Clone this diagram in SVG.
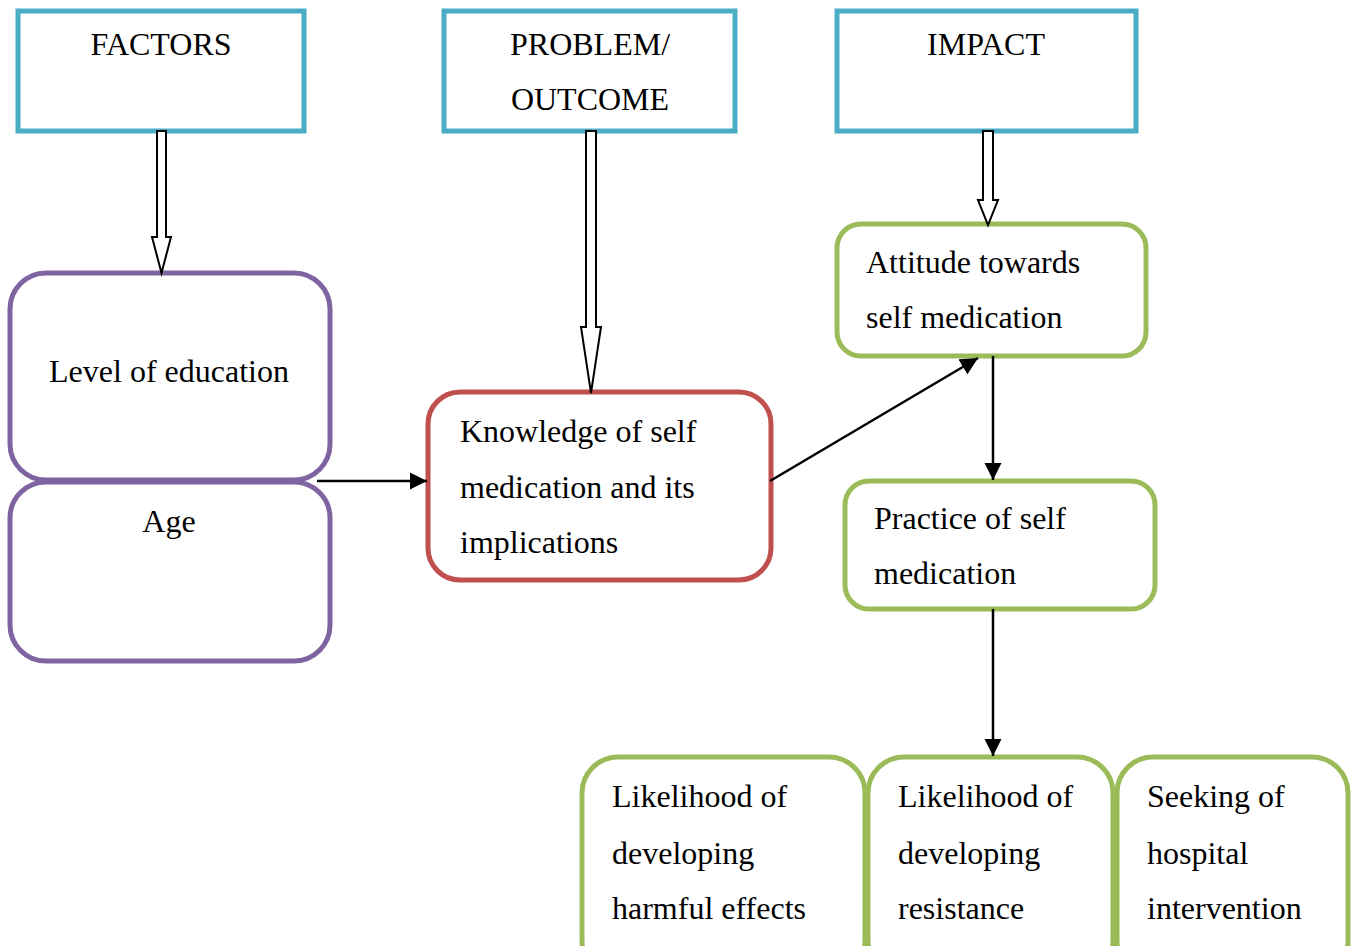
<svg xmlns="http://www.w3.org/2000/svg" width="1359" height="946" viewBox="0 0 1359 946">
<defs>
<style>
.t{font-family:"Liberation Serif","Times New Roman",serif;font-size:32px;fill:#000}
.hdr{fill:#fff;stroke:#4BACC6;stroke-width:5}
.pur{fill:#fff;stroke:#8064A2;stroke-width:5}
.red{fill:#fff;stroke:#C0504D;stroke-width:5}
.grn{fill:#fff;stroke:#9BBB59;stroke-width:5}
.hol{fill:#fff;stroke:#000;stroke-width:2;stroke-linejoin:miter}
.con{stroke:#000;stroke-width:2.5;fill:none}
</style>
<marker id="ah" viewBox="0 0 10 10" refX="10" refY="5" markerWidth="7" markerHeight="7" markerUnits="strokeWidth" orient="auto">
<path d="M0,0 L10,5 L0,10 z" fill="#000"/>
</marker>
</defs>
<rect width="1359" height="946" fill="#fff"/>
<g id="factors"><rect class="hdr" x="18" y="11" width="286" height="120"/><text class="t" x="161" y="55" text-anchor="middle">FACTORS</text></g>
<g id="problem"><rect class="hdr" x="444" y="11" width="291" height="120"/><text class="t" x="590" y="55" text-anchor="middle">PROBLEM/</text><text class="t" x="590" y="110" text-anchor="middle">OUTCOME</text></g>
<g id="impact"><rect class="hdr" x="837" y="11" width="299" height="120"/><text class="t" x="986" y="55" text-anchor="middle">IMPACT</text></g>
<g id="education"><rect class="pur" x="10" y="273" width="320" height="207" rx="36"/><text class="t" x="169" y="382" text-anchor="middle">Level of education</text></g>
<g id="age"><rect class="pur" x="10" y="482" width="320" height="179" rx="36"/><text class="t" x="169" y="532" text-anchor="middle">Age</text></g>
<g id="knowledge"><rect class="red" x="428" y="392" width="343" height="188" rx="32"/><text class="t" x="460" y="442">Knowledge of self</text><text class="t" x="460" y="498">medication and its</text><text class="t" x="460" y="553">implications</text></g>
<g id="attitude"><rect class="grn" x="837" y="224" width="309" height="132" rx="24"/><text class="t" x="866" y="273">Attitude towards</text><text class="t" x="866" y="328">self medication</text></g>
<g id="practice"><rect class="grn" x="845" y="481" width="310" height="128" rx="24"/><text class="t" x="874" y="529">Practice of self</text><text class="t" x="874" y="584">medication</text></g>
<g id="harmful"><rect class="grn" x="582" y="757" width="283" height="220" rx="36"/><text class="t" x="612" y="807">Likelihood of</text><text class="t" x="612" y="864">developing</text><text class="t" x="612" y="919">harmful effects</text></g>
<g id="resistance"><rect class="grn" x="868" y="757" width="245" height="220" rx="36"/><text class="t" x="898" y="807">Likelihood of</text><text class="t" x="898" y="864">developing</text><text class="t" x="898" y="919">resistance</text></g>
<g id="hospital"><rect class="grn" x="1117" y="757" width="231" height="220" rx="36"/><text class="t" x="1147" y="807">Seeking of</text><text class="t" x="1147" y="864">hospital</text><text class="t" x="1147" y="919">intervention</text></g>
<g id="connectors">
<path class="hol" d="M157,131 L166,131 L166,237 L171,237 L161.5,273 L152,237 L157,237 Z"/>
<path class="hol" d="M586,131 L596,131 L596,327 L601,327 L591,393 L581,327 L586,327 Z"/>
<path class="hol" d="M983,131 L993,131 L993,200 L998,200 L988,225 L978,200 L983,200 Z"/>
<line class="con" x1="317" y1="481" x2="427" y2="481" marker-end="url(#ah)"/>
<line class="con" x1="770" y1="481" x2="978" y2="358" marker-end="url(#ah)"/>
<line class="con" x1="993" y1="356" x2="993" y2="480" marker-end="url(#ah)"/>
<line class="con" x1="993" y1="609" x2="993" y2="756" marker-end="url(#ah)"/>
</g>
</svg>
